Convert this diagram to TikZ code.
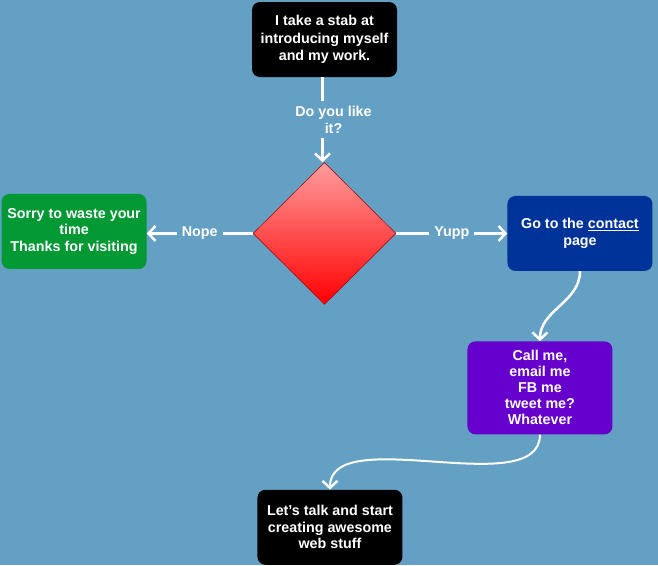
\documentclass[tikz,border=0pt]{standalone}
\usepackage{fontspec}
\setmainfont{Liberation Sans}
\usepackage{tikz}
\usetikzlibrary{arrows.meta, positioning, shapes.geometric}
\definecolor{pagebg}{HTML}{649FC4}
\definecolor{boxgreen}{HTML}{009933}
\definecolor{boxblue}{HTML}{003399}
\definecolor{boxpurple}{HTML}{6600CC}
\definecolor{diamondtop}{HTML}{FF9D9D}
\definecolor{diamondbot}{HTML}{FF0000}

\begin{document}
\begin{tikzpicture}[
  every node/.style={font=\fontsize{14.3}{16.5}\selectfont\bfseries, text=white},
  box/.style={fill=black, rounded corners=8pt, inner sep=2pt,
              minimum width=145pt, minimum height=75pt, align=center},
  decision/.style={diamond, draw=red!65!black, line width=0.5pt,
                   top color=diamondtop, bottom color=diamondbot,
                   minimum width=143pt, minimum height=142pt, inner sep=0pt},
  arrow/.style={-{Straight Barb[length=7pt,width=15pt,line width=2.5pt]},
                line width=2.5pt, white},
  label/.style={fill=pagebg, inner sep=5pt, align=center}
]
% background and page size
\fill[pagebg] (0,0) rectangle (658pt,-565pt);
\useasboundingbox (0,0) rectangle (658pt,-565pt);

% Row 1 -- intro
\node[box, font=\fontsize{14.3}{17.5}\selectfont\bfseries] (intro) at (324.5pt,-39.5pt)
  {I take a stab at\\introducing myself\\and my work.};

% Row 2 -- question
\node[decision, below=85pt of intro] (question) {};
\node[box, fill=boxgreen, left=106pt of question, yshift=2pt] (sorry)
  {Sorry to waste your\\time\\Thanks for visiting};
\node[box, fill=boxblue, right=111pt of question] (contact)
  {Go to the \underline{contact}\\page};

% Row 3 -- reach out
\node[box, fill=boxpurple, minimum height=93pt, below=70pt of contact, xshift=-40pt,
      font=\fontsize{14.3}{16}\selectfont\bfseries] (callme)
  {Call me,\\email me\\FB me\\tweet me?\\Whatever};

% Row 4 -- end
\node[box, below=55pt of callme, xshift=-210pt] (talk)
  {Let\char39 s talk and start\\creating awesome\\web stuff};

% Connections
\draw[arrow] ([xshift=-2pt]intro.south) -- node[label, xshift=11pt]{Do you like\\it?} ([xshift=-2pt]question.north);
\draw[arrow] (question.west) -- node[label]{Nope} (sorry.east |- question.west);
\draw[arrow] (question.east) -- node[label]{Yupp} (contact.west |- question.east);
\draw[arrow] (contact.south) to[out=-90, in=90] (callme.north);
\draw[arrow, line width=2pt] (callme.south) to[out=-90, in=90, looseness=0.8] (talk.north);

\end{tikzpicture}
\end{document}
